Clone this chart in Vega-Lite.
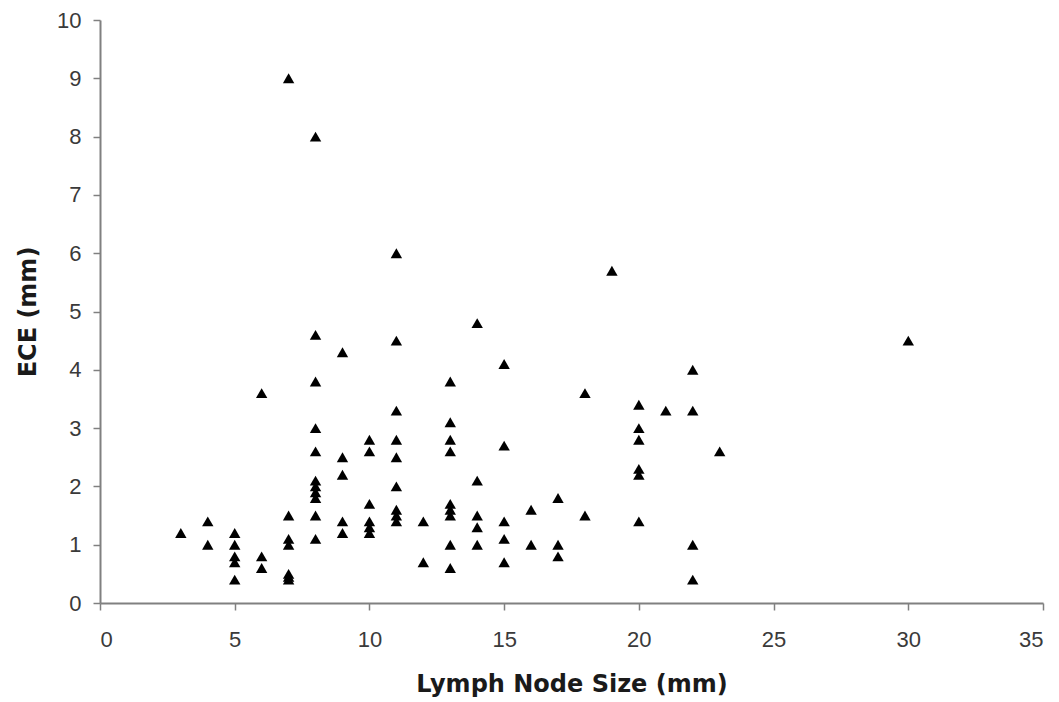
{
  "$schema": "https://vega.github.io/schema/vega-lite/v6.json",
  "autosize": "none",
  "padding": {"left": 100, "top": 20, "right": 16, "bottom": 99},
  "width": 943,
  "height": 583,
  "background": "white",
  "config": {"view": {"stroke": null}, "font": "Liberation Sans"},
  "data": {"values": [
    {"size": 3, "ece": 1.2},
    {"size": 4, "ece": 1.4}, {"size": 4, "ece": 1.0},
    {"size": 5, "ece": 1.2}, {"size": 5, "ece": 1.0}, {"size": 5, "ece": 0.8}, {"size": 5, "ece": 0.7}, {"size": 5, "ece": 0.4},
    {"size": 6, "ece": 3.6}, {"size": 6, "ece": 0.8}, {"size": 6, "ece": 0.6},
    {"size": 7, "ece": 9.0}, {"size": 7, "ece": 1.5}, {"size": 7, "ece": 1.1}, {"size": 7, "ece": 1.0}, {"size": 7, "ece": 0.5}, {"size": 7, "ece": 0.45}, {"size": 7, "ece": 0.4},
    {"size": 8, "ece": 8.0}, {"size": 8, "ece": 4.6}, {"size": 8, "ece": 3.8}, {"size": 8, "ece": 3.0}, {"size": 8, "ece": 2.6}, {"size": 8, "ece": 2.1}, {"size": 8, "ece": 2.0}, {"size": 8, "ece": 1.9}, {"size": 8, "ece": 1.8}, {"size": 8, "ece": 1.5}, {"size": 8, "ece": 1.1},
    {"size": 9, "ece": 4.3}, {"size": 9, "ece": 2.5}, {"size": 9, "ece": 2.2}, {"size": 9, "ece": 1.4}, {"size": 9, "ece": 1.2},
    {"size": 10, "ece": 2.8}, {"size": 10, "ece": 2.6}, {"size": 10, "ece": 1.7}, {"size": 10, "ece": 1.4}, {"size": 10, "ece": 1.3}, {"size": 10, "ece": 1.2},
    {"size": 11, "ece": 6.0}, {"size": 11, "ece": 4.5}, {"size": 11, "ece": 3.3}, {"size": 11, "ece": 2.8}, {"size": 11, "ece": 2.5}, {"size": 11, "ece": 2.0}, {"size": 11, "ece": 1.6}, {"size": 11, "ece": 1.5}, {"size": 11, "ece": 1.4},
    {"size": 12, "ece": 1.4}, {"size": 12, "ece": 0.7},
    {"size": 13, "ece": 3.8}, {"size": 13, "ece": 3.1}, {"size": 13, "ece": 2.8}, {"size": 13, "ece": 2.6}, {"size": 13, "ece": 1.7}, {"size": 13, "ece": 1.6}, {"size": 13, "ece": 1.5}, {"size": 13, "ece": 1.0}, {"size": 13, "ece": 0.6},
    {"size": 14, "ece": 4.8}, {"size": 14, "ece": 2.1}, {"size": 14, "ece": 1.5}, {"size": 14, "ece": 1.3}, {"size": 14, "ece": 1.0},
    {"size": 15, "ece": 4.1}, {"size": 15, "ece": 2.7}, {"size": 15, "ece": 1.4}, {"size": 15, "ece": 1.1}, {"size": 15, "ece": 0.7},
    {"size": 16, "ece": 1.6}, {"size": 16, "ece": 1.0},
    {"size": 17, "ece": 1.8}, {"size": 17, "ece": 1.0}, {"size": 17, "ece": 0.8},
    {"size": 18, "ece": 3.6}, {"size": 18, "ece": 1.5},
    {"size": 19, "ece": 5.7},
    {"size": 20, "ece": 3.4}, {"size": 20, "ece": 3.0}, {"size": 20, "ece": 2.8}, {"size": 20, "ece": 2.3}, {"size": 20, "ece": 2.2}, {"size": 20, "ece": 1.4},
    {"size": 21, "ece": 3.3},
    {"size": 22, "ece": 4.0}, {"size": 22, "ece": 3.3}, {"size": 22, "ece": 1.0}, {"size": 22, "ece": 0.4},
    {"size": 23, "ece": 2.6},
    {"size": 30, "ece": 4.5}
  ]},
  "mark": {"type": "point", "shape": "triangle-up", "filled": true, "color": "black", "opacity": 1, "size": 130},
  "encoding": {
    "x": {"field": "size", "type": "quantitative", "title": "Lymph Node Size (mm)",
      "scale": {"domain": [0, 35], "nice": false, "zero": true},
      "axis": {"values": [0, 5, 10, 15, 20, 25, 30, 35], "grid": false, "domainColor": "#808080", "domainWidth": 2, "tickColor": "#808080", "tickSize": 7, "tickWidth": 1.5,
        "labelFont": "Liberation Sans", "labelFontSize": 22, "labelColor": "#3a3a3a", "labelPadding": 19,
        "titleFont": "DejaVu Sans", "titleFontSize": 24, "titleFontWeight": "bold", "titleColor": "#1a1a1a", "titlePadding": 22}},
    "y": {"field": "ece", "type": "quantitative", "title": "ECE (mm)",
      "scale": {"domain": [0, 10], "nice": false},
      "axis": {"values": [0, 1, 2, 3, 4, 5, 6, 7, 8, 9, 10], "grid": false, "domainColor": "#808080", "domainWidth": 2, "tickColor": "#808080", "tickSize": 7, "tickWidth": 1.5,
        "labelFont": "Liberation Sans", "labelFontSize": 22, "labelColor": "#3a3a3a", "labelPadding": 12,
        "titleFont": "DejaVu Sans", "titleFontSize": 24, "titleFontWeight": "bold", "titleColor": "#1a1a1a", "titlePadding": 16}}
  }
}
